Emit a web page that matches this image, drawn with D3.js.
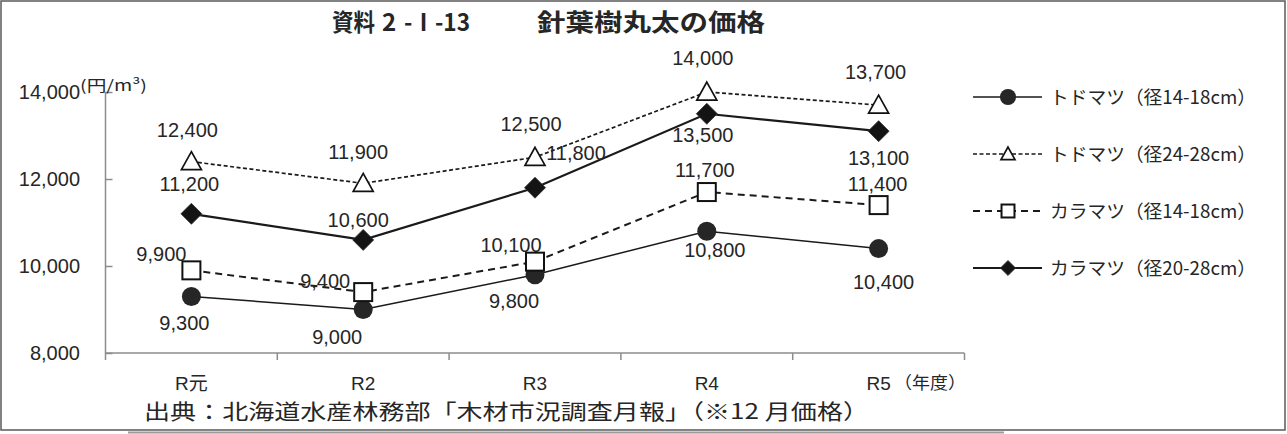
<!DOCTYPE html>
<html>
<head>
<meta charset="utf-8">
<script src="https://cdn.jsdelivr.net/npm/d3@7"></script>
<style>
  html, body { margin: 0; padding: 0; background: #fff; }
  svg { display: block; }
</style>
</head>
<body>
<svg id="chart" width="1287" height="434"></svg>
<script>
// Fiscal years (Reiwa era) and log prices in yen per cubic metre
const years = ["R元", "R2", "R3", "R4", "R5"];
const todomatsu14_18 = [9300, 9000, 9800, 10800, 10400];
const todomatsu24_28 = [12400, 11900, 12500, 14000, 13700];
const karamatsu14_18 = [9900, 9400, 10100, 11700, 11400];
const karamatsu20_28 = [11200, 10600, 11800, 13500, 13100];
const seriesNames = [
  "トドマツ（径14-18cm）",
  "トドマツ（径24-28cm）",
  "カラマツ（径14-18cm）",
  "カラマツ（径20-28cm）"
];
const yTicks = [8000, 10000, 12000, 14000];

// title pieces: document number and subject
const titleParts = ["資料", "2", "-Ⅰ-13", "針葉樹丸太の価格"];
const source = "出典：北海道水産林務部「木材市況調査月報」（※12 月価格）";

const JP = "'Noto Sans CJK JP', 'Noto Sans', sans-serif";
const NUM = "'Liberation Sans', Arial, sans-serif";
const INK = "#262626";

const svg = d3.select("#chart");

// outer frame
svg.append("line").attr("x1", 128).attr("x2", 1004).attr("y1", 432.5).attr("y2", 432.5)
  .attr("stroke", "#9a9a9a").attr("stroke-width", 2);
svg.append("rect").attr("x", 1).attr("y", 1).attr("width", 1284).attr("height", 429)
  .attr("fill", "none").attr("stroke", "#595959").attr("stroke-width", 1.5);

// scales
const x = d3.scaleBand().domain(years).range([105.5, 964.5]);
const y = d3.scaleLinear().domain([8000, 14000]).range([353, 92]);
const cx = d => x(d) + x.bandwidth() / 2;

// title: one text element, pieces placed along the line
const titleLayout = [
  { x: 332, len: 43 }, { x: 382, len: null }, { x: 404, len: 66 }, { x: 537, len: 228 }
];
const titleText = svg.append("text").attr("y", 31)
  .attr("font-family", JP).attr("font-weight", "bold")
  .attr("font-size", 24).attr("fill", INK);
titleParts.forEach((t, i) => {
  const ts = titleText.append("tspan").attr("x", titleLayout[i].x).text(t);
  if (titleLayout[i].len) ts.attr("textLength", titleLayout[i].len).attr("lengthAdjust", "spacingAndGlyphs");
});

// y axis
const yAxis = svg.append("g").attr("transform", "translate(105.5,0)")
  .call(d3.axisRight(y).tickValues(yTicks).tickSize(7).tickFormat(""));
yAxis.select(".domain").attr("stroke", "#8c8c8c").attr("stroke-width", 1.5)
  .attr("d", `M0,${y(14000)}V${y(8000)}`);
yAxis.selectAll(".tick line").attr("stroke", "#8c8c8c").attr("stroke-width", 1.5);

svg.append("g").selectAll("text").data(yTicks).join("text")
  .attr("x", 80).attr("y", d => y(d)).attr("dy", "0.36em")
  .attr("text-anchor", "end").attr("font-family", NUM).attr("font-size", 20)
  .attr("fill", INK).text(d3.format(","));

svg.append("text").attr("x", 80).attr("y", 86).attr("dy", "0.35em")
  .attr("font-family", JP).attr("font-size", 15).attr("fill", INK)
  .attr("textLength", 67).attr("lengthAdjust", "spacingAndGlyphs")
  .text("(円/m³)");

// x axis with ticks between categories
const xAxisG = svg.append("g").attr("transform", "translate(0,353)");
xAxisG.append("line").attr("x1", 105.5).attr("x2", 964.5).attr("y1", 0).attr("y2", 0)
  .attr("stroke", "#8c8c8c").attr("stroke-width", 1.5);
const bounds = years.map(d => x(d)).concat([x(years[years.length - 1]) + x.bandwidth()]);
xAxisG.selectAll("line.tk").data(bounds).join("line").attr("class", "tk")
  .attr("x1", d => d).attr("x2", d => d).attr("y1", 0).attr("y2", 7)
  .attr("stroke", "#8c8c8c").attr("stroke-width", 1.5);

svg.append("g").selectAll("text").data(years).join("text")
  .attr("x", d => cx(d)).attr("y", 383).attr("dy", "0.36em")
  .attr("text-anchor", "middle").attr("font-family", `${NUM.split(",")[0]}, ${JP}`)
  .attr("font-size", 19).attr("fill", INK).text(d => d);
svg.append("text").attr("x", 894).attr("y", 383).attr("dy", "0.36em")
  .attr("font-family", JP).attr("font-size", 17).attr("fill", INK)
  .attr("textLength", 72).attr("lengthAdjust", "spacingAndGlyphs").text("（年度）");

// source note
svg.append("text").attr("x", 144).attr("y", 411).attr("dy", "0.36em")
  .attr("font-family", JP).attr("font-size", 21).attr("fill", INK)
  .attr("textLength", 725).attr("lengthAdjust", "spacingAndGlyphs").text(source);

// series styling
const series = [
  { name: seriesNames[0], values: todomatsu14_18, marker: "circle", dash: null, width: 1.5,
    off: [[-7, 26], [-26, 27], [-21, 26], [8, 19], [5, 33]] },
  { name: seriesNames[1], values: todomatsu24_28, marker: "triangle", dash: "4,2.5", width: 1.7,
    off: [[-4, -32], [-5, -32], [-4, -33], [-4, -34], [-3, -33]] },
  { name: seriesNames[2], values: karamatsu14_18, marker: "square", dash: "7,5", width: 2,
    off: [[-30, -17], [-38, -11], [-24, -17], [-2, -22], [-1, -21]] },
  { name: seriesNames[3], values: karamatsu20_28, marker: "diamond", dash: null, width: 2.2,
    off: [[-2, -30], [-5, -20], [41, -35], [-4, 21], [0, 27]] }
];

function drawMarker(g, type, px, py, s) {
  if (type === "circle") {
    g.append("circle").attr("cx", px).attr("cy", py).attr("r", 9.5 * s).attr("fill", "#262626");
  } else if (type === "triangle") {
    const w = 10 * s, h = 18 * s;
    g.append("path")
      .attr("d", `M${px},${py - h * 0.55}L${px + w},${py + h * 0.45}L${px - w},${py + h * 0.45}Z`)
      .attr("fill", "#fff").attr("stroke", "#111").attr("stroke-width", 1.7);
  } else if (type === "square") {
    const a = 9 * s;
    g.append("rect").attr("x", px - a).attr("y", py - a).attr("width", 2 * a).attr("height", 2 * a)
      .attr("fill", "#fff").attr("stroke", "#111").attr("stroke-width", 2);
  } else {
    const a = 10.5 * s;
    g.append("path").attr("d", `M${px},${py - a}L${px + a},${py}L${px},${py + a}L${px - a},${py}Z`)
      .attr("fill", "#141414").attr("stroke", "#333").attr("stroke-width", 0.8);
  }
}

const line = d3.line().x(d => cx(d.year)).y(d => y(d.v));
const linesG = svg.append("g");
const labelsG = svg.append("g");
const markersG = svg.append("g");

series.forEach(s => {
  const pts = years.map((yr, i) => ({ year: yr, v: s.values[i] }));
  linesG.append("path").datum(pts).attr("d", line).attr("fill", "none")
    .attr("stroke", "#1a1a1a").attr("stroke-width", s.width)
    .attr("stroke-dasharray", s.dash);
  pts.forEach((p, i) => {
    drawMarker(markersG, s.marker, cx(p.year), y(p.v), 1);
    labelsG.append("text")
      .attr("x", cx(p.year) + s.off[i][0]).attr("y", y(p.v) + s.off[i][1]).attr("dy", "0.36em")
      .attr("text-anchor", "middle").attr("font-family", NUM).attr("font-size", 20)
      .attr("fill", INK).text(d3.format(",")(p.v));
  });
});

// legend
const legendY = [97, 154, 211, 268];
const legendMarkScale = [0.85, 0.7, 0.72, 0.72];
series.forEach((s, i) => {
  const g = svg.append("g");
  const ly = legendY[i];
  g.append("line").attr("x1", 973).attr("x2", 1042).attr("y1", ly).attr("y2", ly)
    .attr("stroke", "#1a1a1a").attr("stroke-width", s.width).attr("stroke-dasharray", s.dash);
  drawMarker(g, s.marker, 1008, ly, legendMarkScale[i]);
  g.append("text").attr("x", 1050).attr("y", ly).attr("dy", "0.36em")
    .attr("font-family", JP).attr("font-size", 18.5).attr("fill", INK)
    .attr("textLength", 206).attr("lengthAdjust", "spacingAndGlyphs").text(s.name);
});
</script>
</body>
</html>
